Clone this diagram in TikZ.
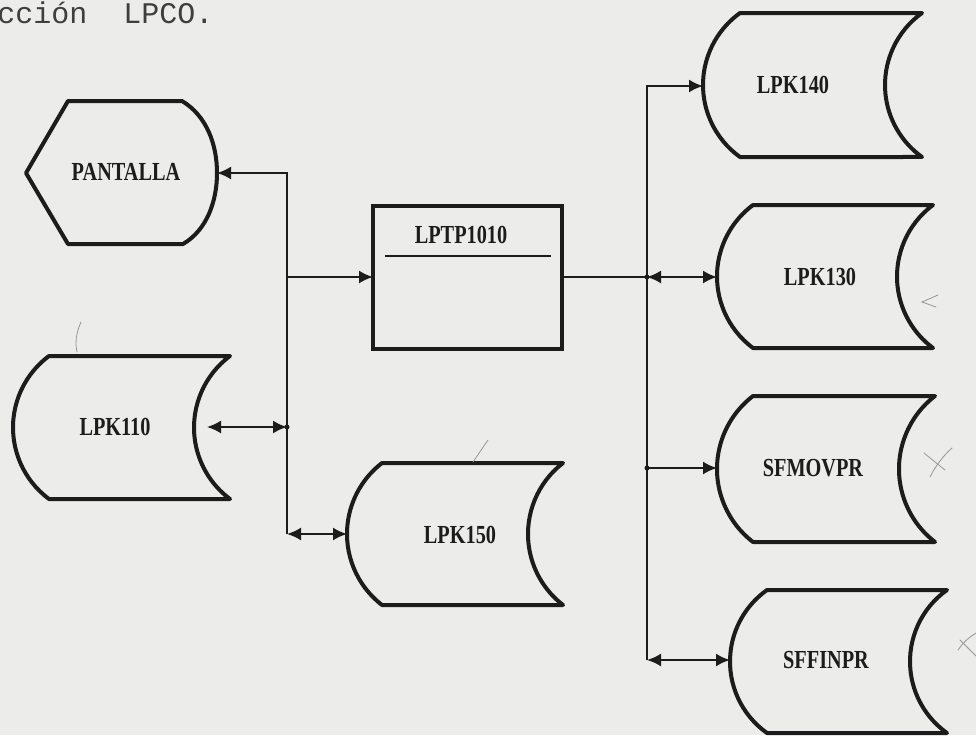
\documentclass[tikz,border=0pt]{standalone}
\usepackage{fontspec}
\setmainfont{Liberation Serif}
\newfontfamily\dotmono{Liberation Mono}
\usetikzlibrary{arrows.meta}
\definecolor{ink}{RGB}{28,28,28}
\definecolor{paper}{RGB}{236,236,234}
\definecolor{pencil}{RGB}{150,150,150}
\newcommand\lbltext[1]{\scalebox{0.78}[1]{#1}}
\newcommand\storshape[5]{% xl, xr, yt, yb, d
  \pgfmathsetmacro\sHalf{(#4-#3)/2}
  \pgfmathsetmacro\sRad{(\sHalf*\sHalf+#5*#5)/(2*#5)}
  \pgfmathsetmacro\sPhi{asin(\sHalf/\sRad)}
  \draw[storeline] (#1,#3) -- (#2,#3)
    arc[start angle=180+\sPhi, end angle=180-\sPhi, radius=\sRad]
    -- (#1,#4)
    arc[start angle=180-\sPhi, end angle=180+\sPhi, radius=\sRad] -- cycle;
}
\begin{document}
\begin{tikzpicture}[x=0.5pt,y=-0.5pt,
  storeline/.style={draw=ink, line width=2pt, line join=round},
  procbox/.style={draw=ink, line width=2.2pt, minimum width=94.5pt, minimum height=71.5pt, inner sep=0pt},
  lbl/.style={font=\bfseries\fontsize{13}{15}\selectfont, text=ink, inner sep=0pt},
  conn/.style={draw=ink, line width=1pt},
  >={Latex[length=7pt,width=6.5pt]},
  jdot/.style={fill=ink, draw=none},
  pencilmark/.style={draw=pencil, line width=0.4pt, line cap=round}]
\fill[paper] (0,0) rectangle (976,735);
\useasboundingbox (0,0) rectangle (976,735);

% title
\node[anchor=base west, inner sep=0pt, font=\dotmono\fontsize{15}{17}\selectfont, text=ink!85] (title) at (-3,23) {cción\ \ LPCO.};

% PANTALLA (display)
\draw[storeline] (26,173) -- (68,101) -- (182,101)
  .. controls (207,116) and (217,145) .. (217,173)
  .. controls (217,201) and (207,230) .. (183,244) -- (68,244) -- cycle;
\node[lbl] (pan) at (126,172) {\lbltext{PANTALLA}};

% LPTP1010 process box
\node[procbox] (tp) at (467.5,277.5) {};
\draw[ink, line width=1pt] (385,256) -- (551,256);
\node[lbl] (tpl) at (461,235) {\lbltext{LPTP1010}};

% storage shapes
\storshape{49}{230}{356}{499}{36}
\node[lbl] (k110) at (115,427) {\lbltext{LPK110}};
\storshape{382}{563}{463}{605}{35}
\node[lbl] (k150) at (460,535) {\lbltext{LPK150}};
\storshape{740}{922}{13}{157}{37}
\node[lbl] (k140) at (793,85) {\lbltext{LPK140}};
\storshape{753}{933}{205}{348}{36}
\node[lbl] (k130) at (820,277) {\lbltext{LPK130}};
\storshape{753}{935}{396}{542}{36}
\node[lbl] (mov) at (813,468) {\lbltext{SFMOVPR}};
\storshape{767}{947}{590}{733}{37}
\node[lbl] (fin) at (826,660) {\lbltext{SFFINPR}};

% ports and bus points
\coordinate (pan-e) at (217,173);
\coordinate (k110-e) at (207,427);
\coordinate (k150-w) at (347,534);
\coordinate (tp-w) at (373,277);
\coordinate (tp-e) at (562,277);
\coordinate (k140-w) at (703,86);
\coordinate (k130-w) at (717,277);
\coordinate (mov-w) at (717,468);
\coordinate (fin-w) at (730,660);
\coordinate (bl-mid) at (287,277);
\coordinate (bl-110) at (287,427);
\coordinate (bl-bot) at (287,534);
\coordinate (br-130) at (647,277);
\coordinate (br-mov) at (647,468);
\coordinate (br-fin) at (647,660);

% connectors
\draw[conn,->] (bl-bot) |- (pan-e);
\draw[conn,->] (bl-mid) -- (tp-w);
\draw[conn,<->] (k110-e) -- (bl-110);
\draw[conn,<->] (bl-bot) -- (k150-w);
\draw[conn] (tp-e) -- (br-130);
\draw[conn,->] (br-fin) |- (k140-w);
\draw[conn,<->] (br-130) -- (k130-w);
\draw[conn,->] (br-mov) -- (mov-w);
\draw[conn,<->] (br-fin) -- (fin-w);
\fill[jdot] (bl-110) circle[radius=2.5];
\fill[jdot] (br-130) circle[radius=2.5];
\fill[jdot] (br-mov) circle[radius=2.5];

% pencil marks
\draw[pencilmark] (81,322) .. controls (76,333) and (75,343) .. (77,352);
\draw[pencilmark] (488,440) -- (473,462);
\draw[pencilmark] (938,295) -- (922,302) -- (936,307);
\draw[pencilmark] (930,477) .. controls (936,465) and (944,455) .. (952,448);
\draw[pencilmark] (924,453) -- (945,470);
\draw[pencilmark] (958,650) .. controls (965,640) and (970,637) .. (976,633);
\draw[pencilmark] (960,640) -- (976,656);
\end{tikzpicture}
\end{document}
